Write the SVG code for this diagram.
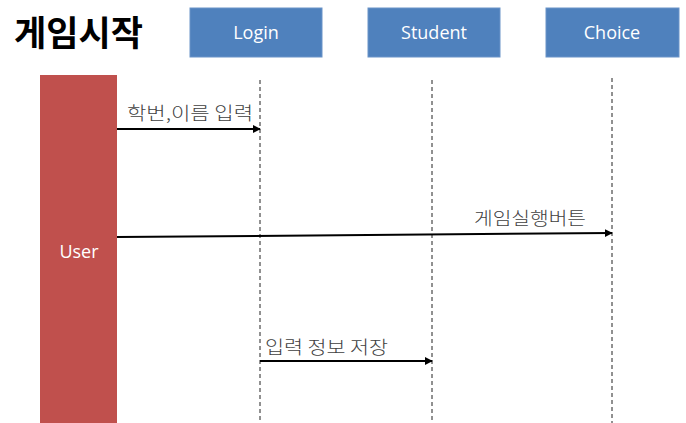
<svg xmlns="http://www.w3.org/2000/svg" width="686" height="423" viewBox="0 0 686 423">
<style>
.box{fill:#4F81BD;stroke:#6A93C8;stroke-width:1}
.hdr{font-family:"Open Sans","Noto Sans",sans-serif;font-size:18px;fill:#fff;text-anchor:middle}
.life{stroke:#222;stroke-width:1;stroke-dasharray:4,3;fill:none}
.msg{stroke:#000;stroke-width:2;fill:none}
.lbl{font-family:"Noto Sans CJK KR",sans-serif;font-size:18px;fill:#404040;font-weight:300}
</style>
<defs>
<marker id="ah" viewBox="0 0 10 10" refX="9" refY="5" markerWidth="4" markerHeight="4" orient="auto"><path d="M0,0 L10,5 L0,10 z" fill="#000"/></marker>
</defs>
<text x="14" y="46" font-family="Noto Sans CJK KR,sans-serif" font-size="35" font-weight="bold" fill="#000" textLength="129" lengthAdjust="spacingAndGlyphs">게임시작</text>
<g id="login"><rect class="box" x="190" y="8" width="132" height="49"/><text class="hdr" x="256" y="39">Login</text></g>
<g id="student"><rect class="box" x="368" y="8" width="132" height="49"/><text class="hdr" x="434" y="39">Student</text></g>
<g id="choice"><rect class="box" x="546" y="8" width="133" height="49"/><text class="hdr" x="612" y="39">Choice</text></g>
<g id="user"><rect x="40" y="75" width="77" height="348" fill="#C0504D"/><text class="hdr" x="79" y="258">User</text></g>
<g id="connectors">
<line class="life" x1="260" y1="80" x2="260" y2="423"/>
<line class="life" x1="432" y1="80" x2="432" y2="423"/>
<line class="life" x1="612" y1="78" x2="612" y2="423"/>
<line class="msg" x1="117" y1="129" x2="260" y2="129" marker-end="url(#ah)"/>
<line class="msg" x1="117" y1="237" x2="612" y2="233" marker-end="url(#ah)"/>
<line class="msg" x1="260" y1="361" x2="432" y2="361" marker-end="url(#ah)"/>
<text class="lbl" x="127" y="120" textLength="126" lengthAdjust="spacingAndGlyphs">학번,이름 입력</text>
<text class="lbl" x="474" y="225" textLength="112" lengthAdjust="spacingAndGlyphs">게임실행버튼</text>
<text class="lbl" x="265" y="354" textLength="123" lengthAdjust="spacingAndGlyphs">입력 정보 저장</text>
</g>
</svg>
